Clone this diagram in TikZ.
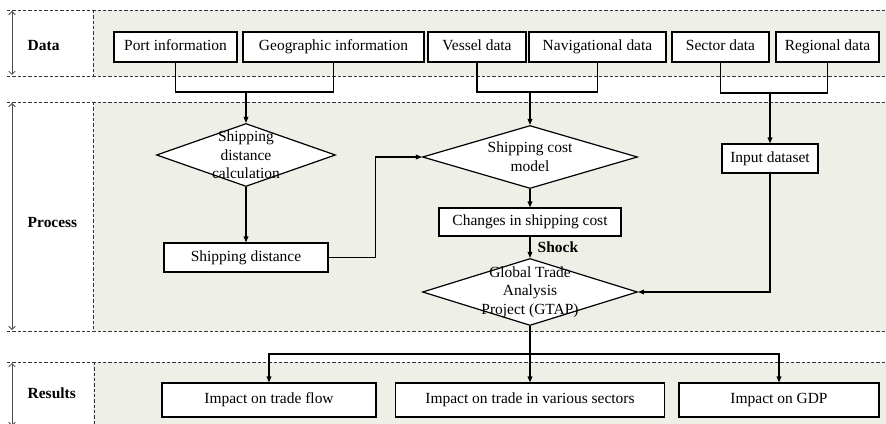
\documentclass[tikz,border=0pt]{standalone}
\usepackage{fontspec}
\setmainfont{Liberation Serif}
\usetikzlibrary{shapes.geometric, arrows.meta}

\definecolor{bandgray}{RGB}{238,240,232}

\begin{document}
\begin{tikzpicture}[
    x=0.75pt, y=-0.75pt,
    font=\fontsize{11.6}{13}\selectfont,
    % background of the three bands
    band/.style={fill=bandgray},
    % dashed band borders
    border/.style={line width=0.5pt, black!80, dash pattern=on 2.4pt off 1.6pt},
    % height markers on the left
    span/.style={{Straight Barb[length=2.5pt,width=5pt]}-{Straight Barb[length=2.5pt,width=5pt]}, line width=0.6pt, black!70},
    % band captions
    bandlabel/.style={anchor=west, font=\fontsize{11.6}{13}\selectfont\bfseries},
    % rectangular boxes
    box/.style={draw, fill=white, line width=0.9pt, inner sep=0pt, minimum height=#1,
                text height=0.72em, text depth=0.18em},
    box/.default=22.5pt,
    % decision diamonds (empty, text put on top)
    decision/.style={diamond, draw, fill=white, line width=0.9pt, inner sep=0pt},
    dtext/.style={align=center, font=\fontsize{11.6}{14}\selectfont},
    % connectors
    line/.style={line width=0.9pt},
    arrow/.style={line width=0.9pt, -{Triangle[length=4.5pt,width=3.5pt]}}
]
\useasboundingbox (0,0) rectangle (886,424);

% --- BANDS ---
\fill[band] (93,10) rectangle (886,76);
\fill[band] (93,102) rectangle (886,331);
\fill[band] (93,362) rectangle (886,424);
\draw[border] (7,10) -- (886,10);
\draw[border] (7,76) -- (886,76);
\draw[border] (7,102) -- (886,102);
\draw[border] (7,331) -- (886,331);
\draw[border] (7,362) -- (886,362);
\draw[border] (93,10) -- (93,76);
\draw[border] (93,102) -- (93,331);
\draw[border] (94,362) -- (94,424);
\draw[span] (12,11) -- (12,75);
\draw[span] (12,103) -- (12,330);
\draw[span] (12,363) -- (12,426);
\node[bandlabel] (ldata) at (23,46) {Data};
\node[bandlabel] (lproc) at (23,223) {Process};
\node[bandlabel] (lres) at (23,393) {Results};

% --- DATA ---
\node[box, minimum width=123*0.75pt] (port) at (175.5,47) {Port information};
\node[box, minimum width=181*0.75pt] (geo) at (333.5,47) {Geographic information};
\node[box, minimum width=98*0.75pt] (vessel) at (477,47) {Vessel data};
\node[box, minimum width=137*0.75pt] (nav) at (597.5,47) {Navigational data};
\node[box, minimum width=97*0.75pt] (sector) at (720.5,47) {Sector data};
\node[box, minimum width=103*0.75pt] (region) at (827.5,47) {Regional data};

% --- PROCESS ---
\node[decision, minimum width=179*0.75pt, minimum height=63*0.75pt] (dist) at (246,155) {};
\node[dtext] (distT) at (dist) {Shipping\\distance\\calculation};
\node[decision, minimum width=215*0.75pt, minimum height=63*0.75pt] (cost) at (530,157) {};
\node[dtext] (costT) at (cost) {Shipping cost\\model};
\node[box=21.75pt, minimum width=96*0.75pt] (input) at (770,158.5) {Input dataset};
\node[box=21pt, minimum width=182*0.75pt] (change) at (530,222) {Changes in shipping cost};
\node[box=21.75pt, minimum width=164*0.75pt] (sdist) at (246,257.5) {Shipping distance};
\node[decision, minimum width=215*0.75pt, minimum height=67*0.75pt] (gtap) at (530,292) {};
\node[dtext] (gtapT) at (gtap) {Global Trade\\Analysis\\Project (GTAP)};

% --- RESULTS ---
\node[box=25.5pt, minimum width=214*0.75pt] (flow) at (269,400) {Impact on trade flow};
\node[box=25.5pt, minimum width=269*0.75pt] (sectors) at (530,400) {Impact on trade in various sectors};
\node[box=25.5pt, minimum width=200*0.75pt] (gdp) at (779,400) {Impact on GDP};

% --- CONNECTORS ---
\coordinate (j1) at (246,92);
\coordinate (j2) at (530,92);
\coordinate (j3) at (770,93);
\coordinate (j4) at (530,354);
\draw[line] (port.south) |- (j1) -| (geo.south);
\draw[line] (vessel.south) |- (j2) -| (nav.south);
\draw[line] (sector.south) |- (j3) -| (region.south);
\draw[arrow] (j1) -- (dist.north);
\draw[arrow] (j2) -- (cost.north);
\draw[arrow] (j3) -- (input.north);
\draw[arrow] (dist.south) -- (sdist.north);
\draw[arrow] (sdist.east) -- ++(47,0) |- (cost.west);
\draw[arrow] (cost.south) -- (change.north);
\draw[arrow] (change.south) -- (gtap.north)
    node[midway, right, xshift=2pt, font=\fontsize{11.6}{13}\selectfont\bfseries] (shock) {Shock};
\draw[arrow] (input.south) |- (gtap.east);
\draw[line] (gtap.south) -- (j4);
\draw[arrow] (j4) -| (flow.north);
\draw[arrow] (j4) -- (sectors.north);
\draw[arrow] (j4) -| (gdp.north);

\end{tikzpicture}
\end{document}
